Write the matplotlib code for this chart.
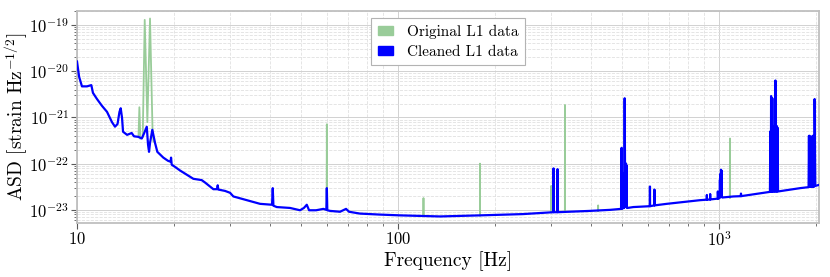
import matplotlib
matplotlib.use("Agg")
import matplotlib.pyplot as plt
from matplotlib.patches import Patch
from matplotlib.ticker import LogLocator, NullFormatter, FixedLocator, FixedFormatter

plt.rcParams['font.family'] = ['cmr10', 'DejaVu Serif']
plt.rcParams['mathtext.fontset'] = 'cm'
plt.rcParams['axes.formatter.use_mathtext'] = True
plt.rcParams['axes.unicode_minus'] = False

# ---------------- data ----------------
clean_freq = [
    10.0, 10.15, 10.22, 10.36, 10.74, 11.08, 11.21, 11.54, 11.96, 12.40,
    12.85, 13.13, 13.37, 13.56, 13.68, 13.81, 13.91, 14.32, 14.80, 15.05,
    15.52, 15.91, 16.17, 16.49, 16.64, 16.76, 16.88, 17.16, 17.50, 17.79,
    18.57, 19.21, 19.56, 19.63, 19.72, 20.20, 20.94, 22.49, 23.03, 24.46,
    25.05, 26.59, 27.30, 27.43, 27.55, 28.91, 29.97, 30.69, 33.79, 37.16,
    40.50, 40.71, 40.9, 41.9, 46.09, 49.52, 50.9, 51.96, 52.82, 55.53,
    58.53, 59.8, 60.0, 60.2, 61.41, 65.96, 68.86, 70.36, 76.12, 87.88,
    101.4, 135.1, 180.1, 244.9,
    304.5, 305.0, 305.5, 313.5, 314.0, 314.5,
    396.3, 457.6,
    495.0, 497.0, 499.0, 503.0, 504.0, 506.0, 507.0, 508.0, 509.0, 510.0,
    511.0, 512.0, 513.0, 514.0, 515.0, 516.0, 518.0,
    540.8, 608.5, 609.0, 609.5, 628.5, 629.0, 629.5, 687.1, 872.8,
    915.5, 916.0, 916.5, 937.5, 938.0, 938.5,
    990.0, 991.0, 993.0, 1004.0, 1006.0, 1008.0, 1010.0, 1012.0, 1014.0,
    1016.0, 1018.0, 1020.0, 1023.0,
    1108.0, 1169.0, 1170.0, 1171.0,
    1408.0, 1440.0, 1445.0, 1450.0, 1452.0, 1455.0, 1458.0, 1462.0, 1465.0,
    1468.0, 1472.0, 1476.0, 1480.0, 1484.0, 1488.0, 1492.0, 1495.0, 1498.0,
    1501.0, 1505.0, 1509.0, 1513.0, 1517.0, 1521.0, 1526.0,
    1788.0, 1900.0, 1905.0, 1910.0, 1915.0, 1920.0, 1925.0, 1930.0, 1935.0,
    1940.0, 1945.0, 1950.0, 1955.0, 1960.0, 1965.0, 1970.0, 1975.0, 1980.0,
    1984.0, 1988.0, 1993.0, 2048.0,
]
clean_asd = [
    1.62e-20, 7.6e-21, 6.5e-21, 4.7e-21, 4.7e-21, 5.0e-21, 3.4e-21, 2.5e-21, 1.78e-21, 1.32e-21,
    7.9e-22, 6.3e-22, 7.2e-22, 1.32e-21, 1.58e-21, 9.8e-22, 4.9e-22, 4.2e-22, 4.6e-22, 3.9e-22,
    3.8e-22, 3.5e-22, 4.5e-22, 6.3e-22, 2.6e-22, 1.8e-22, 2.8e-22, 5.4e-22, 2.8e-22, 1.8e-22,
    1.35e-22, 1.15e-22, 1.10e-22, 1.35e-22, 9.5e-23, 8.5e-23, 7.1e-23, 5.2e-23, 4.7e-23, 4.4e-23,
    3.9e-23, 2.8e-23, 2.8e-23, 3.4e-23, 2.75e-23, 2.57e-23, 2.34e-23, 1.95e-23, 1.62e-23, 1.35e-23,
    1.29e-23, 2.95e-23, 1.23e-23, 1.15e-23, 1.10e-23, 9.8e-24, 1.10e-23, 1.29e-23, 9.8e-24, 9.8e-24,
    1.05e-23, 1.0e-23, 2.95e-23, 9.8e-24, 9.5e-24, 9.1e-24, 1.05e-23, 9.1e-24, 8.3e-24, 7.9e-24,
    7.6e-24, 7.2e-24, 7.6e-24, 8.1e-24,
    8.9e-24, 7.9e-23, 8.9e-24, 8.9e-24, 7.6e-23, 8.9e-24,
    9.5e-24, 1.0e-23,
    1.05e-23, 2.2e-22, 1.05e-23, 1.1e-23, 6.0e-23, 1.1e-23, 3.0e-22, 2.6e-21, 1.5e-22, 1.2e-23,
    1.0e-22, 1.2e-23, 1.0e-22, 1.2e-23, 9.0e-23, 1.1e-23, 1.1e-23,
    1.15e-23, 1.2e-23, 3.2e-23, 1.2e-23, 1.25e-23, 2.75e-23, 1.25e-23, 1.35e-23, 1.62e-23,
    1.66e-23, 2.1e-23, 1.66e-23, 1.68e-23, 2.2e-23, 1.68e-23,
    1.75e-23, 2.5e-23, 1.75e-23, 1.8e-23, 4.5e-23, 1.9e-23, 6.0e-23, 2.0e-23, 7.4e-23,
    2.0e-23, 7.0e-23, 2.0e-23, 1.85e-23,
    1.95e-23, 1.98e-23, 2.25e-23, 1.98e-23,
    2.4e-23, 2.45e-23, 5.0e-22, 2.5e-23, 2.9e-21, 2.5e-23, 6.0e-22, 2.5e-23, 2.6e-21,
    2.5e-23, 6.5e-22, 2.5e-23, 6.5e-22, 2.5e-23, 6.5e-22, 2.5e-23, 6.5e-22, 6.3e-21,
    2.5e-23, 6.5e-22, 2.5e-23, 6.5e-22, 2.5e-23, 6.0e-22, 2.5e-23,
    2.95e-23, 3.1e-23, 4.0e-22, 3.2e-23, 4.0e-22, 3.2e-23, 3.5e-22, 3.2e-23, 2.8e-22,
    3.2e-23, 3.6e-22, 3.2e-23, 4.0e-22, 3.2e-23, 3.8e-22, 3.2e-23, 4.0e-22, 3.2e-23,
    2.5e-21, 3.3e-22, 3.3e-23, 3.47e-23,
]

# lines present only in the original data (green)
orig_line_freq = [
    [15.54, 15.64, 15.75],
    [16.02, 16.25, 16.56, 16.88, 17.19, 17.3],
    [59.9, 60.0, 60.1],
    [119.9, 120.0, 120.1],
    [179.9, 180.0, 180.1],
    [299.8, 300.0, 300.2],
    [330.8, 331.0, 331.2],
    [419.8, 420.0, 420.2],
    [1080.0, 1081.0, 1082.0],
]
orig_line_asd = [
    [3.8e-22, 1.66e-21, 3.5e-22],
    [3.8e-22, 1.29e-19, 7.9e-22, 1.38e-19, 5.0e-22, 3.0e-22],
    [1.0e-23, 7.1e-22, 1.0e-23],
    [7.4e-24, 1.8e-23, 7.4e-24],
    [7.6e-24, 1.0e-22, 7.6e-24],
    [8.9e-24, 3.3e-23, 8.9e-24],
    [9.0e-24, 1.86e-21, 9.0e-24],
    [9.6e-24, 1.25e-23, 9.6e-24],
    [1.85e-23, 3.5e-22, 1.85e-23],
]

legend_labels = ["Original L1 data", "Cleaned L1 data"]
orig_color = "#99cc99"
clean_color = "#0000ff"

# ---------------- figure ----------------
fig = plt.figure(figsize=(8.3, 2.77), dpi=100)
ax = fig.add_axes([0.0928, 0.195, 0.894, 0.765])

for fr, a in zip(orig_line_freq, orig_line_asd):
    ax.plot(fr, a, color=orig_color, lw=1.3, zorder=2)
ax.plot(clean_freq, clean_asd, color=clean_color, lw=1.6, zorder=3)

ax.set_xscale('log')
ax.set_yscale('log')
ax.set_xlim(10, 2048)
ax.set_ylim(5.2e-24, 2.0e-19)

ax.xaxis.set_major_locator(FixedLocator([10, 100, 1000]))
ax.xaxis.set_major_formatter(FixedFormatter([r'$10$', r'$100$', r'$10^3$']))
ax.xaxis.set_minor_locator(LogLocator(base=10, subs=range(2, 10), numticks=20))
ax.xaxis.set_minor_formatter(NullFormatter())
ax.yaxis.set_major_locator(FixedLocator([1e-23, 1e-22, 1e-21, 1e-20, 1e-19]))
ax.yaxis.set_major_formatter(FixedFormatter(
    [r'$10^{-23}$', r'$10^{-22}$', r'$10^{-21}$', r'$10^{-20}$', r'$10^{-19}$']))
ax.yaxis.set_minor_locator(LogLocator(base=10, subs=range(2, 10), numticks=20))
ax.yaxis.set_minor_formatter(NullFormatter())

ax.tick_params(which='major', labelsize=12, length=4, width=0.8, color='0.35', direction='out')
ax.tick_params(which='minor', length=2, width=0.6, color='0.35', direction='out')
ax.tick_params(axis='x', which='major', pad=1.5)
ax.tick_params(axis='y', which='major', pad=2)

ax.grid(which='major', color='0.82', ls='-', lw=0.7)
ax.grid(which='minor', color='0.88', ls='--', lw=0.6)
ax.set_axisbelow(True)

for s in ax.spines.values():
    s.set_color('0.75')
    s.set_linewidth(1.3)

ax.set_xlabel('Frequency [Hz]', fontsize=14, labelpad=1)
ax.set_ylabel(r'ASD [strain Hz$^{-1/2}$]', fontsize=14)
ax.yaxis.set_label_coords(-0.064, 0.5)

handles = [Patch(facecolor=orig_color, edgecolor=orig_color),
           Patch(facecolor=clean_color, edgecolor=clean_color)]
leg = ax.legend(handles, legend_labels, loc='upper center', fontsize=11,
                fancybox=False, edgecolor='0.7', framealpha=1.0,
                handlelength=1.0, handleheight=0.5, handletextpad=0.9,
                borderpad=0.45, labelspacing=0.4, bbox_to_anchor=(0.5, 1.005))
leg.get_frame().set_linewidth(0.8)

fig.savefig('out.png', dpi=100)
